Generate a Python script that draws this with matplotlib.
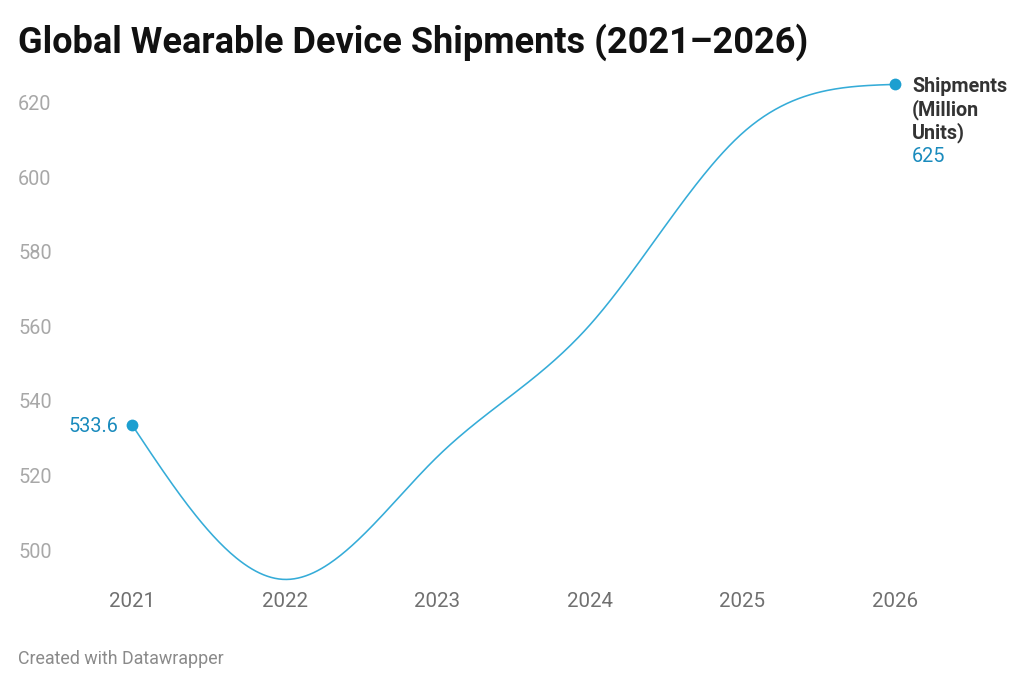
import numpy as np
import matplotlib
matplotlib.use("Agg")
import matplotlib.pyplot as plt
import matplotlib.transforms as mtransforms

plt.rcParams['font.family'] = ['Roboto', 'DejaVu Sans']

# ---- data ----
years = [2021, 2022, 2023, 2024, 2025, 2026]
shipments = [533.6, 492.1, 525.0, 560.4, 611.9, 625.0]
series_name = "Shipments\n(Million\nUnits)"
y_ticks = [500, 520, 540, 560, 580, 600, 620]
title = "Global Wearable Device Shipments (2021\u20132026)"
footer = "Created with Datawrapper"

LINE = "#35acd8"
DOT = "#1c9fd0"
LABEL_BLUE = "#1a8bbd"


def natural_spline(x, y, n=80):
    """Natural cubic spline through the points (like d3.curveNatural)."""
    x = np.asarray(x, float)
    y = np.asarray(y, float)
    N = len(x)
    h = np.diff(x)
    A = np.zeros((N, N))
    b = np.zeros(N)
    A[0, 0] = A[-1, -1] = 1.0
    for i in range(1, N - 1):
        A[i, i - 1] = h[i - 1]
        A[i, i] = 2 * (h[i - 1] + h[i])
        A[i, i + 1] = h[i]
        b[i] = 6 * ((y[i + 1] - y[i]) / h[i] - (y[i] - y[i - 1]) / h[i - 1])
    M = np.linalg.solve(A, b)
    xs, ys = [], []
    for i in range(N - 1):
        t = np.linspace(x[i], x[i + 1], n)
        a = x[i + 1] - t
        c = t - x[i]
        val = (M[i] * a**3 + M[i + 1] * c**3) / (6 * h[i]) \
            + (y[i] / h[i] - M[i] * h[i] / 6) * a \
            + (y[i + 1] / h[i] - M[i + 1] * h[i] / 6) * c
        xs.append(t)
        ys.append(val)
    return np.concatenate(xs), np.concatenate(ys)


W, H = 1024, 684
fig = plt.figure(figsize=(W / 100, H / 100), dpi=100)

# axes placed so that 2021..2026 spans px 132..895, and 500/620 at px 550/103
left_px, right_px = 132, 895
top_px, bot_px = 73, 591
ax = fig.add_axes([left_px / W, 1 - bot_px / H, (right_px - left_px) / W, (bot_px - top_px) / H])
ppu = (550 - 103) / 120.0
ax.set_xlim(years[0], years[-1])
ax.set_ylim(500 - (bot_px - 550) / ppu, 620 + (103 - top_px) / ppu)
for sp in ax.spines.values():
    sp.set_visible(False)

xs, ys = natural_spline(years, shipments)
ax.plot(xs, ys, color=LINE, lw=1.15, clip_on=False, solid_capstyle='round')
ax.plot([years[0], years[-1]], [shipments[0], shipments[-1]], 'o', color=DOT,
        ms=8.5, mec='none', clip_on=False, zorder=3)

# x tick labels
ax.set_xticks(years)
ax.set_xticklabels([str(y) for y in years])
ax.tick_params(axis='x', length=0, pad=1, labelsize=14.8, labelcolor='#707070')

# y tick labels (left aligned at fixed figure x)
ax.set_yticks([])
ytrans = mtransforms.blended_transform_factory(fig.transFigure, ax.transData)
for v in y_ticks:
    ax.text(18 / W, v, str(v), transform=ytrans, ha='left', va='center_baseline',
            fontsize=14.3, color='#a8a8a8')

# value labels
ax.annotate(f"{shipments[0]:g}", (years[0], shipments[0]), xytext=(-14, 0),
            textcoords='offset pixels', ha='right', va='center_baseline',
            fontsize=14.3, color=LABEL_BLUE)
for k, line in enumerate(series_name.split("\n")):
    ax.annotate(line, (years[-1], shipments[-1]), xytext=(17, -23 * k),
                textcoords='offset pixels', ha='left', va='center_baseline',
                fontsize=14.2, fontweight='bold', color='#333333')
ax.annotate(f"{shipments[-1]:g}", (years[-1], shipments[-1]), xytext=(17, -70),
            textcoords='offset pixels', ha='left', va='center_baseline',
            fontsize=14.3, color=LABEL_BLUE)

fig.text(18 / W, 1 - 38 / H, title, ha='left', va='center_baseline', fontsize=26,
         fontweight='bold', color='#111111')
fig.text(18 / W, 1 - 657 / H, footer, ha='left', va='center_baseline', fontsize=12.9,
         color='#8a8a8a')

fig.savefig("out.png", dpi=100)
